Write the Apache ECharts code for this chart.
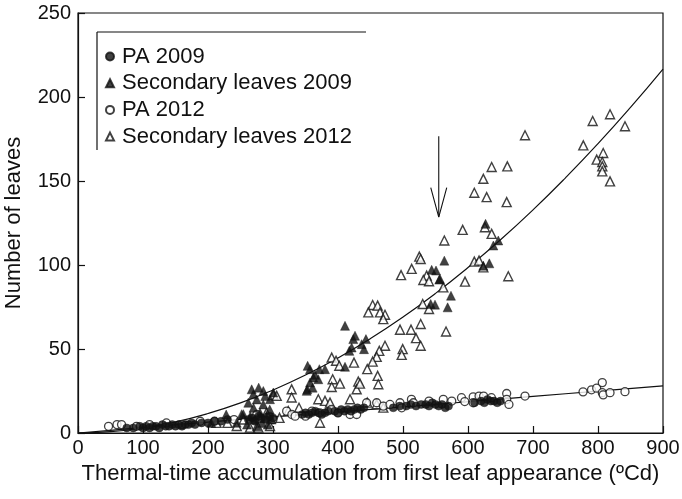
<!DOCTYPE html>
<html>
<head>
<meta charset="utf-8">
<script src="https://cdn.jsdelivr.net/npm/echarts@6/dist/echarts.min.js"></script>
<style>
html,body{margin:0;padding:0;background:#fff;}
#c{width:682px;height:499px;}
</style>
</head>
<body>
<div id="c"></div>
<script>
var xTicks = [0,100,200,300,400,500,600,700,800,900];
var yTicks = [0,50,100,150,200,250];

var pa2009 = [[75,3],[85,3],[95,4],[100,3],[105,4],[110,3],[115,4],[120,4],[125,3],[130,5],[135,4],[140,4],[145,5],[150,4],[155,5],[160,4],[165,5],[170,5],[175,6],[180,5],[190,6],[200,6],[210,7],[220,7],[230,8],
[262,8],[268,9],[272,7],[278,10],[282,9],[288,8],[295,10],[300,9],
[345,11],[350,12],[355,11],[360,12],[365,13],[370,12],[375,11],[380,12],[385,13],[395,13],[400,12],[405,14],[410,13],[415,14],[420,13],[425,14],[430,15],[435,14],[440,15],
[485,15],[495,16],[505,16],[512,17],[520,16],[528,17],[535,17],[540,16],[545,18],[550,17],[555,16],[560,17],[565,15],[570,16],
[610,18],[620,19],[625,18],[630,20],[635,19],[640,19],[645,18],[650,19]];

var sec2009 = [[627,124.5],[646.6,114.6],[639,111.6],[632.8,101],[623.6,99.6],[563.6,102.6],[556.9,91.7],[573.8,81.7],[568.7,74.8],[544.1,97.1],[550.8,96.7],[555.8,91.3],[542.6,76.8],[549.2,76.4],
[410.8,63.8],[426.2,57.9],[423.5,55.9],[443,55.9],[436.4,52.9],[417.4,48.9],[421,50.9],[440,49.9],[410.8,39.4],
[353.3,40],[356.9,38],[371.3,38],[380,38],[364.6,34.6],[362,33],[369.7,32],[356.9,30],[352.8,26],[361,27],[351.8,25.1],
[267.2,26],[285.1,25],[295.4,20.1],[269.7,23],[300.5,24.1],[251.8,11.2],[244.2,6.1],[254.4,11.2],
[262,18],[270,15],[275,20],[280,12],[285,17],[290,10],[272,8],[265,10],[283,6],[295,14],[298,8],[278,27],[288,22],[260,5],[275,4],[292,5],[205,6],[228,11]];

var pa2012 = [[47,4],[60,5],[67,5],[90,4],[110,5],[136,6],[160,5],[188,7],[210,7],[240,8],[275,11],[290,9],[300,8],[321,13],[329,11],[334,10],[350,10],[360,13],[372,12],[390,14],[400,12],[418.5,11],[428.7,11],[444,18],[459.5,18],[469.7,16],[480,17],[495.4,18],[498,15],[513,20],[516,18],[540,19],[562,20],[575,19],[590,21],[595,18.7],[608,21.5],[608,18],[617,22],[624,22],[636,21],[659.5,23.5],[659.5,20],[663,17],[687.7,22],[777,24.5],[790,25.7],[798,26.7],[806.6,30],[806.6,24],[808,22.7],[818.5,24],[841.5,24.6]];

var sec2012 = [[841.5,182.6],[818.5,189.7],[791.8,185.7],[777.4,171.2],[808,166.7],[798,162.7],[806.6,161.3],[806.6,158.7],[806.6,155.7],[818.5,149.8],[687.7,177.2],[636.4,158.3],[660.5,158.7],[623.6,151.3],[609.7,143],[628.7,140.4],[659.5,137.4],[591.8,120.9],[563.6,114.6],[626,122.5],[636.4,118.5],[609.7,102],[617,102.6],[623.6,98.6],[662,93.3],[595.4,90.1],[562,86.7],
[525.1,105],[527.2,103.6],[513.3,97.7],[497,94],[536.4,93.7],[531.3,91.1],[540,90.3],[530.3,76.8],[540,73.8],
[453.3,76.2],[461,75.8],[446.7,71.8],[464.6,71.8],[472.3,70.4],[469.7,67.8],
[495.4,61.5],[512.3,61.5],[527.2,64.9],[566.2,60.4],[520,56.5],[527.2,51.9],[472.3,51.9],[499.5,49.9],[498,46.5],[463.5,48.9],[459.5,45.3],[453.3,42.5],[424.6,41.9],[445,38],[461,34],[462,29],
[390.3,44.9],[397,43],[402,40],[391.8,32],[403,29.4],[390.3,27.4],[431.2,30.6],[428.7,26],[433.8,29.4],
[445,18.1],[459.5,17.1],[469.7,15.1],[418.5,20.1],[369.7,20.1],[380,19.1],[387.7,18.1],[328.7,26],[328.7,21.1],[300.5,22.7],[305.7,22.1],[372.3,6.1],[244.2,4.2],[264.6,3.2],[277.4,3.2],[295.4,4.2],[323.5,13.1],
[230,6],[255,8],[280,9],[290,12],[310,9],[340,15],[213,6]];

var secFit = [[0,0],[50,0.8],[100,3],[150,6.6],[200,11.6],[250,17.9],[300,25.6],[350,34.5],[400,44.7],[450,56.2],[500,69],[550,83.1],[600,98.5],[650,115],[700,132.8],[750,151.9],[800,172.2],[850,193.8],[900,216.6]];
var paFit = [[0,0],[50,1.6],[100,3.3],[200,6.5],[300,9.6],[400,12.6],[500,15.6],[600,18.6],[700,21.8],[800,24.9],[900,28]];

var arrowShaft = [[555,176.6],[555,128.5]];
var arrowHead = [[542.7,146],[555,128.5],[567.3,146]];

var legendNames = ['PA 2009','Secondary leaves 2009','PA 2012','Secondary leaves 2012'];

var chart = echarts.init(document.getElementById('c'), null, {renderer:'canvas'});
var font = 'Liberation Sans, Arial, Helvetica, sans-serif';
var ink = '#111';
var lineStyleFit = {color:ink, width:1.2};

chart.setOption({
  animation:false,
  backgroundColor:'#fff',
  textStyle:{fontFamily:font},
  grid:{left:78, top:13, right:19, bottom:66, containLabel:false, outerBoundsMode:'none',
        show:true, borderColor:ink, borderWidth:1.2, backgroundColor:'transparent'},
  legend:{
    data:legendNames.map(function(n){return {name:n};}),
    orient:'vertical', left:100, top:40.5, itemWidth:8, itemHeight:8, itemGap:4.7,
    textStyle:{fontFamily:font, fontSize:22, color:ink, lineHeight:22, padding:[0,0,0,3]}
  },
  xAxis:{
    type:'value', min:xTicks[0], max:xTicks[xTicks.length-1], interval:100,
    name:'Thermal-time accumulation from first leaf appearance (\u00baCd)',
    nameLocation:'middle', nameGap:28,
    nameTextStyle:{fontFamily:font, fontSize:22, color:ink},
    axisLine:{lineStyle:{color:ink, width:1.2}},
    axisTick:{inside:true, length:7, lineStyle:{color:ink, width:1.2}},
    axisLabel:{fontFamily:font, fontSize:20, color:ink, margin:5},
    splitLine:{show:false}
  },
  yAxis:{
    type:'value', min:yTicks[0], max:yTicks[yTicks.length-1], interval:50,
    name:'Number of leaves', nameLocation:'middle', nameGap:53,
    nameTextStyle:{fontFamily:font, fontSize:22, color:ink},
    axisLine:{lineStyle:{color:ink, width:1.2}},
    axisTick:{inside:true, length:7, lineStyle:{color:ink, width:1.2}},
    axisLabel:{fontFamily:font, fontSize:20, color:ink, margin:7},
    splitLine:{show:false}
  },
  graphic:[
    {type:'line', shape:{x1:97,y1:32,x2:366,y2:32}, style:{stroke:ink, lineWidth:1.2}},
    {type:'line', shape:{x1:97,y1:32,x2:97,y2:150}, style:{stroke:ink, lineWidth:1.2}}
  ],
  series:[
    {name:'fitSec', type:'line', data:secFit, smooth:true, showSymbol:false, lineStyle:lineStyleFit, z:1, silent:true},
    {name:'fitPA', type:'line', data:paFit, smooth:true, showSymbol:false, lineStyle:lineStyleFit, z:1, silent:true},
    {name:'arrow1', type:'line', data:arrowShaft, showSymbol:false, lineStyle:{color:ink, width:1.1}, z:1, silent:true},
    {name:'arrow2', type:'line', data:arrowHead, showSymbol:false, lineStyle:{color:ink, width:1.1}, z:1, silent:true},
    {name:legendNames[3], type:'scatter', data:sec2012, symbol:'triangle', symbolSize:9,
      itemStyle:{color:'#fff', borderColor:ink, borderWidth:1.4}, z:3},
    {name:legendNames[2], type:'scatter', data:pa2012, symbol:'circle', symbolSize:8,
      itemStyle:{color:'#fff', borderColor:ink, borderWidth:1.3}, z:3},
    {name:legendNames[1], type:'scatter', data:sec2009, symbol:'triangle', symbolSize:9,
      itemStyle:{color:ink, borderColor:ink, borderWidth:0.5}, z:4},
    {name:legendNames[0], type:'scatter', data:pa2009, symbol:'circle', symbolSize:8,
      itemStyle:{color:ink, borderColor:ink, borderWidth:0.5}, z:4}
  ]
});
</script>
</body>
</html>
